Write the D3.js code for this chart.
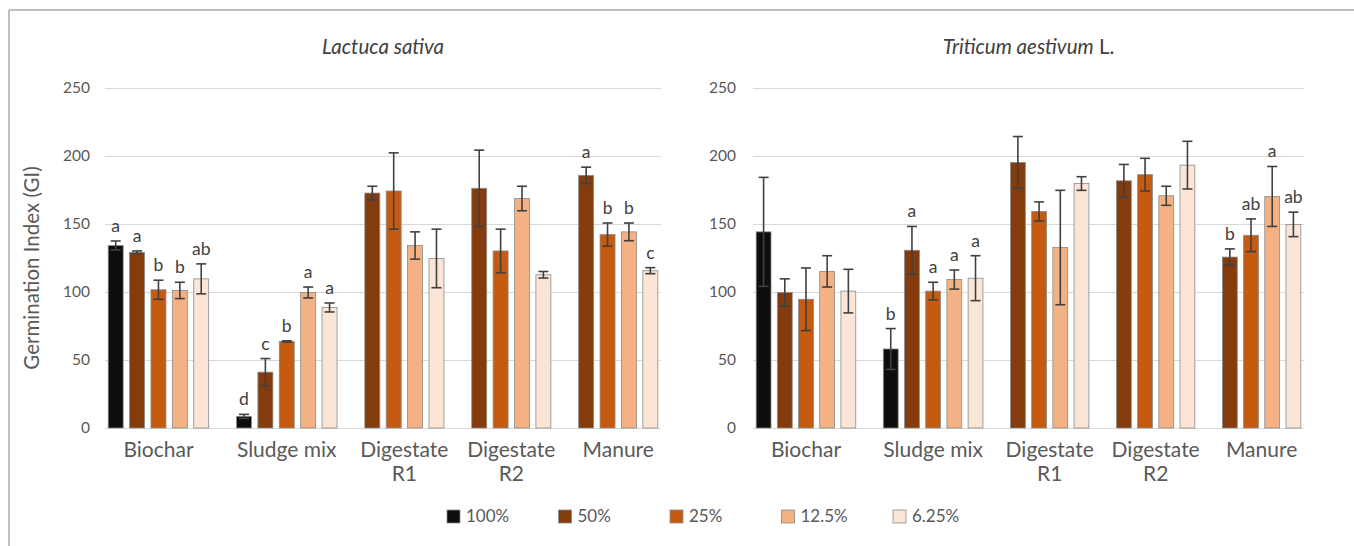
<!DOCTYPE html>
<html><head><meta charset="utf-8">
<script src="https://cdn.jsdelivr.net/npm/d3@7"></script>
<style>
html,body{margin:0;padding:0;background:#fff;}
svg{display:block;}
text{font-family:Lato,"Open Sans",sans-serif;}
</style></head>
<body>
<svg id="chart" width="1354" height="546"></svg>
<script>
// ---------- DATA ----------
const categories = ["Biochar", "Sludge mix", "Digestate R1", "Digestate R2", "Manure"];
const categoryLines = [["Biochar"], ["Sludge mix"], ["Digestate", "R1"], ["Digestate", "R2"], ["Manure"]];
const seriesNames = ["100%", "50%", "25%", "12.5%", "6.25%"];
const seriesColors = ["#0d0d0d", "#843c0c", "#c55a11", "#f4b183", "#fbe5d6"];
const yTicks = [0, 50, 100, 150, 200, 250];

// Lactuca sativa (values per category; null = not tested)
const lact100 = [134, 8.5, null, null, null];
const lact50  = [129, 41, 172.5, 176, 185.5];
const lact25  = [101.5, 63.5, 174, 130, 142];
const lact12  = [101, 99.5, 134, 168.5, 144];
const lact6   = [109.5, 88.5, 124.5, 112.5, 115.5];
const lact100Err = [3.3, 1.5, null, null, null];
const lact50Err  = [1, 10, 5, 28, 6];
const lact25Err  = [7, 0.5, 28, 16, 8.5];
const lact12Err  = [6, 4, 10, 9, 6.5];
const lact6Err   = [11, 3.3, 21.5, 2.4, 2.2];
const lact100Let = ["a", "d", "", "", ""];
const lact50Let  = ["a", "c", "", "", "a"];
const lact25Let  = ["b", "b", "", "", "b"];
const lact12Let  = ["b", "a", "", "", "b"];
const lact6Let   = ["ab", "a", "", "", "c"];

// Triticum aestivum L.
const trit100 = [144, 58, null, null, null];
const trit50  = [99.5, 130.5, 195, 181.5, 125.5];
const trit25  = [94.5, 100.5, 159, 186, 141.5];
const trit12  = [115, 109, 132.5, 170.5, 170];
const trit6   = [100.5, 110, 179.5, 193, 149.5];
const trit100Err = [40, 15, null, null, null];
const trit50Err  = [10, 17.5, 19, 12, 6];
const trit25Err  = [23, 6.5, 7, 12, 12];
const trit12Err  = [11.5, 7, 42, 7, 22];
const trit6Err   = [16, 16.5, 5, 17.5, 9];
const trit100Let = ["", "b", "", "", ""];
const trit50Let  = ["", "a", "", "", "b"];
const trit25Let  = ["", "a", "", "", "ab"];
const trit12Let  = ["", "a", "", "", "a"];
const trit6Let   = ["", "a", "", "", "ab"];

// ---------- LAYOUT ----------
const svg = d3.select("#chart");
const TXT = "#595959";

// outer frame (cropped)
svg.append("line").attr("x1", 9).attr("x2", 1354).attr("y1", 10).attr("y2", 10)
  .attr("stroke", "#c0c0c0").attr("stroke-width", 2);
svg.append("line").attr("x1", 9).attr("x2", 9).attr("y1", 10).attr("y2", 546)
  .attr("stroke", "#c0c0c0").attr("stroke-width", 2);

const panels = [
  { title: [["Lactuca sativa", true]], x0: 105, x1: 661, pad: 15,
    values: [lact100, lact50, lact25, lact12, lact6],
    errs: [lact100Err, lact50Err, lact25Err, lact12Err, lact6Err],
    lets: [lact100Let, lact50Let, lact25Let, lact12Let, lact6Let] },
  { title: [["Triticum aestivum", true], [" L.", false]], x0: 753, x1: 1304, pad: 17,
    values: [trit100, trit50, trit25, trit12, trit6],
    errs: [trit100Err, trit50Err, trit25Err, trit12Err, trit6Err],
    lets: [trit100Let, trit50Let, trit25Let, trit12Let, trit6Let] }
];

const y = d3.scaleLinear().domain([0, 250]).range([428, 87.5]);

panels.forEach(p => {
  // build slots: bars of each category, one empty slot between categories
  const slots = [];
  categories.forEach((c, ci) => {
    if (ci > 0) slots.push({ id: "gap" + ci, gap: true });
    seriesNames.forEach((s, si) => {
      const v = p.values[si][ci];
      if (v !== null) slots.push({ id: ci + "-" + si, ci, si, v,
        e: p.errs[si][ci], l: p.lets[si][ci] });
    });
  });
  const x = d3.scaleBand().domain(slots.map(d => d.id)).range([p.x0, p.x1]).padding(0);
  const bw = x.bandwidth() * 0.7;
  const g = svg.append("g");

  // gridlines
  g.selectAll("line.grid").data(yTicks).join("line")
    .attr("x1", p.x0).attr("x2", p.x1)
    .attr("y1", d => Math.round(y(d)) + 0.5).attr("y2", d => Math.round(y(d)) + 0.5)
    .attr("stroke", "#d9d9d9").attr("stroke-width", 1);

  // y axis labels
  const ax = g.append("g").attr("transform", `translate(${p.x0},0)`)
    .call(d3.axisLeft(y).tickValues(yTicks).tickSize(0).tickPadding(p.pad));
  ax.select(".domain").remove();
  ax.selectAll("text").attr("fill", TXT).style("font-size", "15.5px")
    .style("font-family", 'Lato,"Open Sans",sans-serif');

  const bars = slots.filter(d => !d.gap);
  // bars
  g.selectAll("rect.bar").data(bars).join("rect")
    .attr("x", d => x(d.id) + (x.bandwidth() - bw) / 2)
    .attr("width", bw)
    .attr("y", d => y(d.v))
    .attr("height", d => y(0) - y(d.v))
    .attr("fill", d => seriesColors[d.si])
    .attr("stroke", "#8a8a8a").attr("stroke-width", 0.8);

  // error bars
  const eg = g.selectAll("g.err").data(bars).join("g")
    .attr("stroke", "#404040").attr("stroke-width", 1.6);
  eg.append("line")
    .attr("x1", d => x(d.id) + x.bandwidth() / 2).attr("x2", d => x(d.id) + x.bandwidth() / 2)
    .attr("y1", d => y(d.v + d.e)).attr("y2", d => y(d.v - d.e));
  eg.append("line")
    .attr("x1", d => x(d.id) + x.bandwidth() / 2 - 5).attr("x2", d => x(d.id) + x.bandwidth() / 2 + 5)
    .attr("y1", d => y(d.v + d.e)).attr("y2", d => y(d.v + d.e));
  eg.append("line")
    .attr("x1", d => x(d.id) + x.bandwidth() / 2 - 5).attr("x2", d => x(d.id) + x.bandwidth() / 2 + 5)
    .attr("y1", d => y(d.v - d.e)).attr("y2", d => y(d.v - d.e));

  // significance letters
  g.selectAll("text.let").data(bars.filter(d => d.l)).join("text")
    .attr("x", d => x(d.id) + x.bandwidth() / 2)
    .attr("y", d => y(d.v + d.e) - 9)
    .attr("text-anchor", "middle").attr("fill", "#404040")
    .style("font-size", "17.5px").text(d => d.l);

  // category labels
  categories.forEach((c, ci) => {
    const cs = bars.filter(d => d.ci === ci);
    const cx = (x(cs[0].id) + x(cs[cs.length - 1].id) + x.bandwidth()) / 2;
    const t = g.append("text").attr("x", cx).attr("y", 457)
      .attr("text-anchor", "middle").attr("fill", TXT).style("font-size", "21px");
    categoryLines[ci].forEach((ln, li) => {
      t.append("tspan").attr("x", cx).attr("dy", li === 0 ? 0 : 24).text(ln);
    });
  });

  // title
  const tt = g.append("text").attr("x", (p.x0 + p.x1) / 2).attr("y", 54)
    .attr("text-anchor", "middle").attr("fill", "#404040").style("font-size", "20.5px");
  p.title.forEach(([s, it]) => tt.append("tspan").style("font-style", it ? "italic" : "normal").text(s));
});

// y axis title
svg.append("text").attr("transform", "translate(39,268) rotate(-90)")
  .attr("text-anchor", "middle").attr("fill", TXT).style("font-size", "20.5px")
  .text("Germination Index (GI)");

// legend
const lg = svg.append("g").selectAll("g").data(seriesNames).join("g")
  .attr("transform", (d, i) => `translate(${447 + i * 111.5},510)`);
lg.append("rect").attr("width", 13).attr("height", 13)
  .attr("fill", (d, i) => seriesColors[i]).attr("stroke", "#8a8a8a").attr("stroke-width", 0.8);
lg.append("text").attr("x", 19).attr("y", 12).attr("fill", TXT)
  .style("font-size", "17px").text(d => d);
</script>
</body></html>
